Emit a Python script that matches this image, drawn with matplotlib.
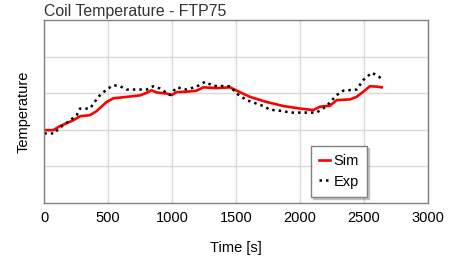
import matplotlib.pyplot as plt

plt.rcParams['font.family'] = ['Liberation Sans', 'DejaVu Sans']

# Simulation curve (time s, temperature in arbitrary grid units)
sim_t = [0, 70, 122, 227, 279, 357, 409, 487, 540, 644, 748, 800, 839, 878,
         957, 996, 1035, 1113, 1191, 1243, 1348, 1452, 1504, 1608, 1738, 1869,
         1999, 2103, 2155, 2234, 2286, 2390, 2442, 2494, 2546, 2599, 2638]
sim_v = [1.99, 1.99, 2.10, 2.26, 2.37, 2.40, 2.51, 2.76, 2.86, 2.90, 2.94,
         3.01, 3.08, 3.02, 2.99, 2.95, 3.03, 3.04, 3.07, 3.16, 3.14, 3.16,
         3.07, 2.90, 2.76, 2.65, 2.58, 2.54, 2.63, 2.66, 2.81, 2.83, 2.90,
         3.04, 3.19, 3.18, 3.16]

# Experimental curve
exp_t = [0, 83, 109, 175, 253, 279, 357, 422, 487, 540, 592, 644, 748, 800,
         852, 904, 983, 1035, 1113, 1191, 1256, 1321, 1452, 1504, 1582, 1712,
         1764, 1869, 1921, 2129, 2208, 2286, 2338, 2442, 2494, 2560, 2599, 2638]
exp_v = [1.90, 1.90, 2.03, 2.19, 2.40, 2.58, 2.58, 2.90, 3.10, 3.22, 3.19,
         3.10, 3.10, 3.10, 3.19, 3.13, 2.95, 3.16, 3.10, 3.18, 3.31, 3.20,
         3.19, 2.99, 2.81, 2.65, 2.55, 2.51, 2.47, 2.47, 2.65, 2.95, 3.07,
         3.10, 3.36, 3.56, 3.49, 3.40]

x_ticks = [0, 500, 1000, 1500, 2000, 2500, 3000]

fig = plt.figure(figsize=(4.49, 2.57), dpi=100)
ax = fig.add_axes([44.3 / 449, 54 / 257, 383.7 / 449, 183 / 257])

ax.plot(sim_t, sim_v, color='#ff0000', lw=1.9, label='Sim')
ax.plot(exp_t, exp_v, color='black', lw=1.8, ls=(0, (1, 1.6)), label='Exp')

ax.set_xlim(0, 3000)
ax.set_ylim(0, 5)
ax.set_xticks(x_ticks)
ax.set_yticks([1, 2, 3, 4])
ax.set_yticklabels([])
ax.tick_params(axis='x', length=0, labelsize=10.5, pad=6)
ax.tick_params(axis='y', length=0)
ax.grid(True, color='#d9d9d9', lw=1)
ax.set_axisbelow(True)
for sp in ax.spines.values():
    sp.set_color('#808080')
    sp.set_linewidth(1)

ax.set_xlabel('Time [s]', fontsize=10.5, labelpad=11)
ax.set_ylabel('Temperature', fontsize=10.5, labelpad=6)
ax.set_title('Coil Temperature - FTP75', loc='left', fontsize=11.4,
             color='#333333', pad=3)

leg = ax.legend(loc='lower left', bbox_to_anchor=(0.695, 0.035),
                fancybox=False, shadow={'ox': 1.5, 'oy': -1.5, 'shade': 0.4},
                handlelength=0.75, handletextpad=0.25, fontsize=10.5,
                borderpad=0.55, borderaxespad=0, labelspacing=0.45,
                framealpha=1, edgecolor='#808080')
leg.get_frame().set_linewidth(1)
# widen the box a little on the right like the reference
leg._legend_box.align = 'left'

fig.savefig('out.png', dpi=100)
